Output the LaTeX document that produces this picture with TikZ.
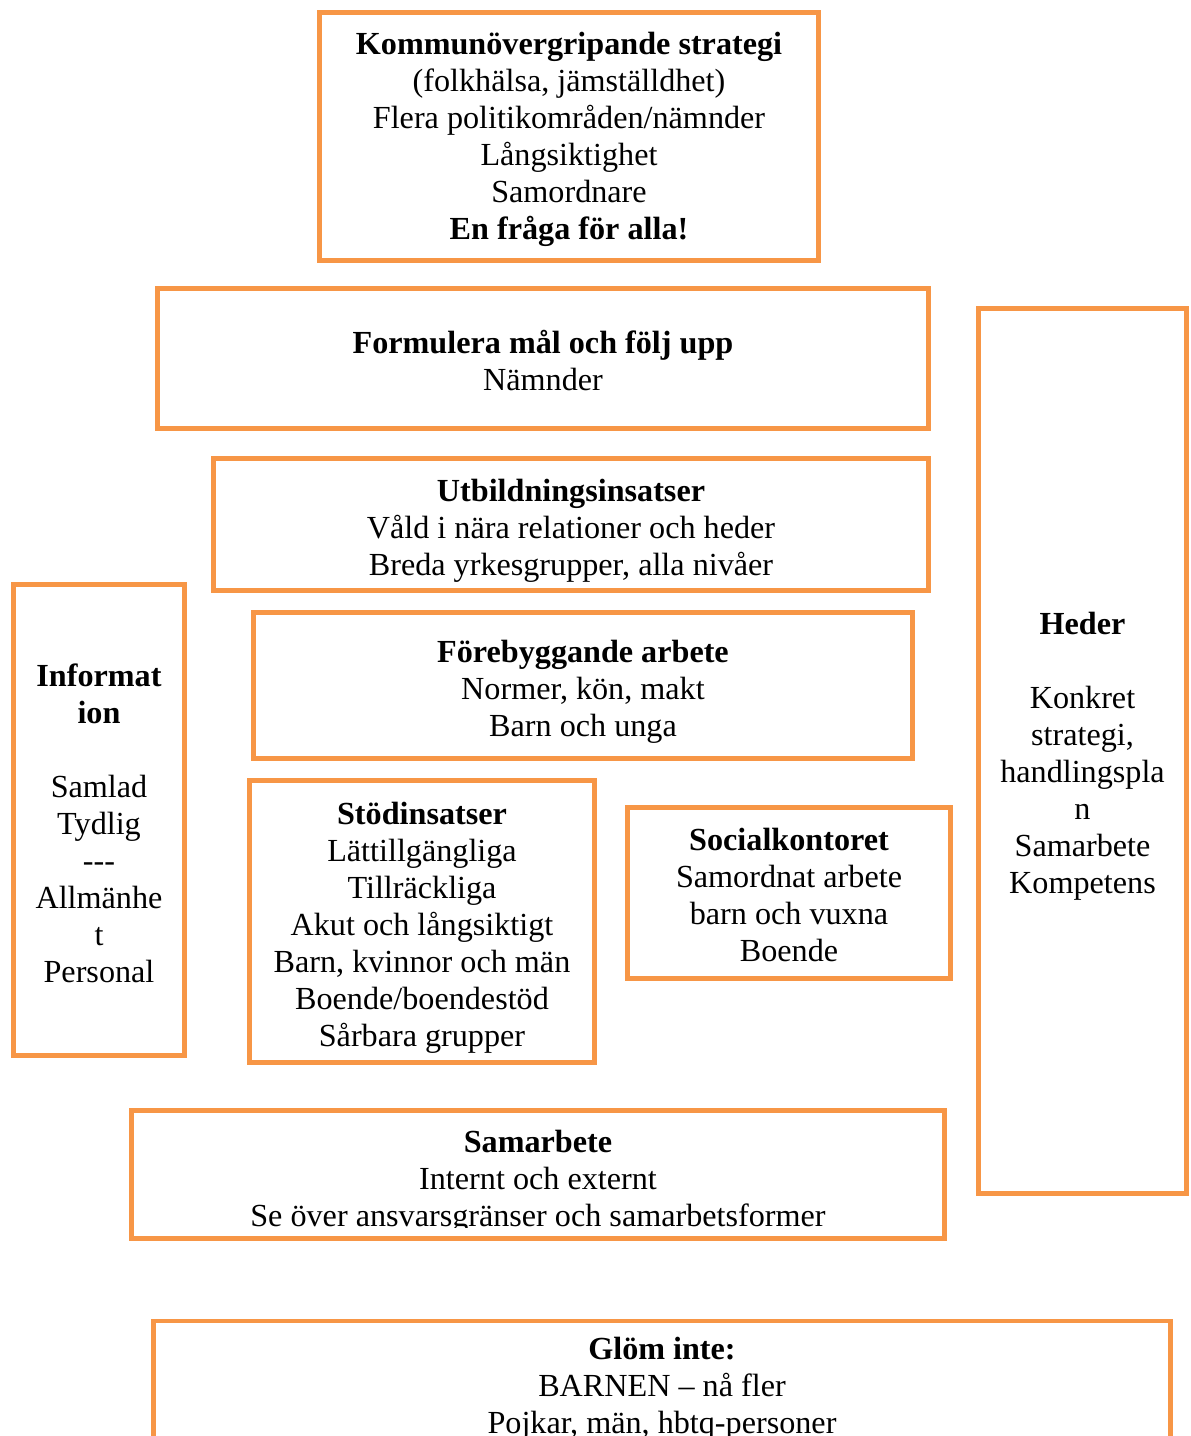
\documentclass[tikz,border=0pt]{standalone}
\usepackage{fontspec}
\setmainfont{Liberation Serif}
\usepackage{xcolor}
\usepackage{tikz}
\definecolor{kant}{HTML}{F79646}
\newcommand{\px}{0.373pt}
\newcommand{\hoj}[1]{\rule{0pt}{#1}}

\begin{document}
\begin{tikzpicture}[x=0.373pt,y=-0.373pt,
  ruta/.style 2 args={draw=kant,line width=1.8pt,minimum width=#1*\px,minimum height=#2*\px,
    align=center,font=\fontsize{12}{13.8}\selectfont,inner sep=0pt},
  tekst/.style={align=center,font=\fontsize{12}{13.8}\selectfont,inner sep=0pt}]
\useasboundingbox (0,0) rectangle (1191,1436);
\node[ruta={499}{248}] (strategi) at (569,136.5) {\hoj{10.3pt}\textbf{Kommunövergripande strategi}\\(folkhälsa, jämställdhet)\\Flera politikområden/nämnder\\Långsiktighet\\Samordnare\\\textbf{En fråga för alla!}};
\node[ruta={771}{140}] (mal) at (543,358.5) {\hoj{10.4pt}\textbf{Formulera mål och följ upp}\\Nämnder};
\node[ruta={715}{132}] (utbildning) at (571,524.5) {\hoj{12.7pt}\textbf{Utbildningsinsatser}\\Våld i nära relationer och heder\\Breda yrkesgrupper, alla nivåer};
\node[ruta={659}{146}] (forebygg) at (583,685.5) {\hoj{12.7pt}\textbf{Förebyggande arbete}\\Normer, kön, makt\\Barn och unga};
\node[ruta={345}{282}] (stod) at (422,921.5) {\hoj{12.7pt}\textbf{Stödinsatser}\\Lättillgängliga\\Tillräckliga\\Akut och långsiktigt\\Barn, kvinnor och män\\Boende/boendestöd\\Sårbara grupper};
\node[ruta={323}{171}] (social) at (789,893) {\hoj{9.6pt}\textbf{Socialkontoret}\\Samordnat arbete\\barn och vuxna\\Boende};
\node[ruta={171}{471}] (info) at (99,820) {\hoj{11.2pt}\textbf{Informat}\\\textbf{ion}\\[13.8pt]Samlad\\Tydlig\\-{}-{}-\\Allmänhe\\t\\Personal};
\node[ruta={208}{885}] (heder) at (1082.5,751) {\hoj{12.6pt}\textbf{Heder}\\[13.8pt]Konkret\\strategi,\\handlingspla\\n\\Samarbete\\Kompetens};
\node[ruta={813}{128}] (samarbete) at (538,1174.5) {};
\begin{scope}
  \clip (129,1100) rectangle (947,1227);
  \node[tekst] (samarbetetext) at (538,1182) {\textbf{Samarbete}\\Internt och externt\\Se över ansvarsgränser och samarbetsformer};
\end{scope}
\node[ruta={1017}{10},anchor=north,inner ysep=6.2pt] (glom) at (662,1318.5) {\textbf{Glöm inte:}\\BARNEN – nå fler\\Pojkar, män, hbtq-personer};
\end{tikzpicture}
\end{document}
